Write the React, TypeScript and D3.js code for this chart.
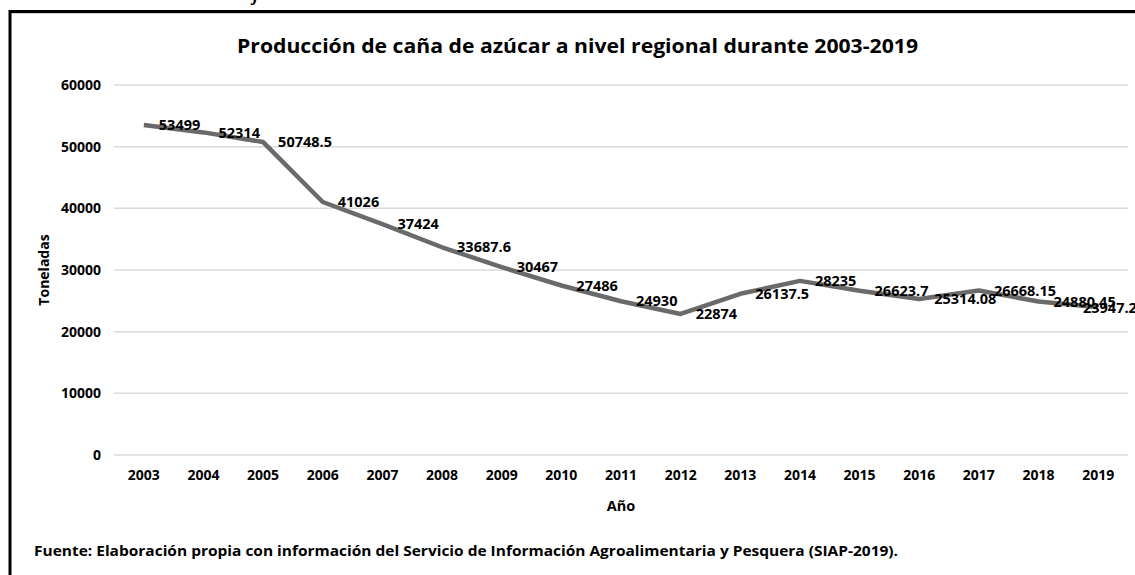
import React from "react";
import * as d3 from "d3";

const years = ["2003","2004","2005","2006","2007","2008","2009","2010","2011","2012","2013","2014","2015","2016","2017","2018","2019"];
const production = [53499, 52314, 50748.5, 41026, 37424, 33687.6, 30467, 27486, 24930, 22874, 26137.5, 28235, 26623.7, 25314.08, 26668.15, 24880.45, 23947.2];
const yTicks = [0, 10000, 20000, 30000, 40000, 50000, 60000];

const W = 1135, H = 575;
const FONT = "'Open Sans', 'DejaVu Sans', sans-serif";

export default function App() {
  const x = d3.scalePoint<string>().domain(years).range([114, 1128]).padding(0.5);
  const y = d3.scaleLinear().domain([0, 60000]).range([455, 85]);
  const line = d3.line<number>().x((_, i) => x(years[i]) as number).y(d => y(d));
  const estW = (s: string) => s.split("").reduce((a, c) => a + (c === "." ? 3.9 : 8.35), 0);
  const rightLimit = 1137;

  return (
    <div style={{ position: "fixed", left: 0, top: 0, width: W, height: H, background: "#fff" }}>
      <svg width={W} height={H} style={{ display: "block", fontFamily: FONT }}>
        <rect x={0} y={0} width={W} height={H} fill="#fff" />
        <text x={253} y={1} fontFamily="'Liberation Serif', serif" fontStyle="italic" fontWeight="bold" fontSize={18} fill="#000">j</text>
        <line x1={10} y1={13.5} x2={W} y2={13.5} stroke="#d0d0d0" strokeWidth={1} />
        <rect x={10} y={11.5} width={W + 20} height={H + 20} fill="none" stroke="#000" strokeWidth={3} />

        <text x={577.5} y={53} textAnchor="middle" fontWeight="bold" fontSize={19} fill="#000" textLength={681} lengthAdjust="spacingAndGlyphs">
          Producción de caña de azúcar a nivel regional durante 2003-2019
        </text>

        {yTicks.map(t => (
          <g key={t}>
            <line x1={114} x2={1128} y1={y(t)} y2={y(t)} stroke="#d9d9d9" strokeWidth={1.5} />
            <text x={101} y={y(t)} dy="0.36em" textAnchor="end" fontWeight="bold" fontSize={14} fill="#000">{t}</text>
          </g>
        ))}

        {years.map(yr => (
          <text key={yr} x={x(yr) as number} y={480} textAnchor="middle" fontWeight="bold" fontSize={14} fill="#000">{yr}</text>
        ))}

        <text x={621} y={511} textAnchor="middle" fontWeight="bold" fontSize={14.5} fill="#000">Año</text>
        <text transform={`translate(49,270) rotate(-90)`} textAnchor="middle" fontWeight="bold" fontSize={14} fill="#000">Toneladas</text>

        <path d={line(production) || ""} fill="none" stroke="#6a6a6a" strokeWidth={4.5} strokeLinejoin="round" strokeLinecap="butt" />

        {production.map((v, i) => {
          const s = String(v);
          const px = x(years[i]) as number;
          const lx = Math.min(px + 15, rightLimit - estW(s));
          return (
            <text key={i} x={lx} y={y(v)} dy="0.36em" fontWeight="bold" fontSize={14.5} fill="#000">{s}</text>
          );
        })}

        <text x={34} y={556} fontWeight="bold" fontSize={15} fill="#000" textLength={864} lengthAdjust="spacingAndGlyphs">
          Fuente: Elaboración propia con información del Servicio de Información Agroalimentaria y Pesquera (SIAP-2019).
        </text>
      </svg>
    </div>
  );
}
